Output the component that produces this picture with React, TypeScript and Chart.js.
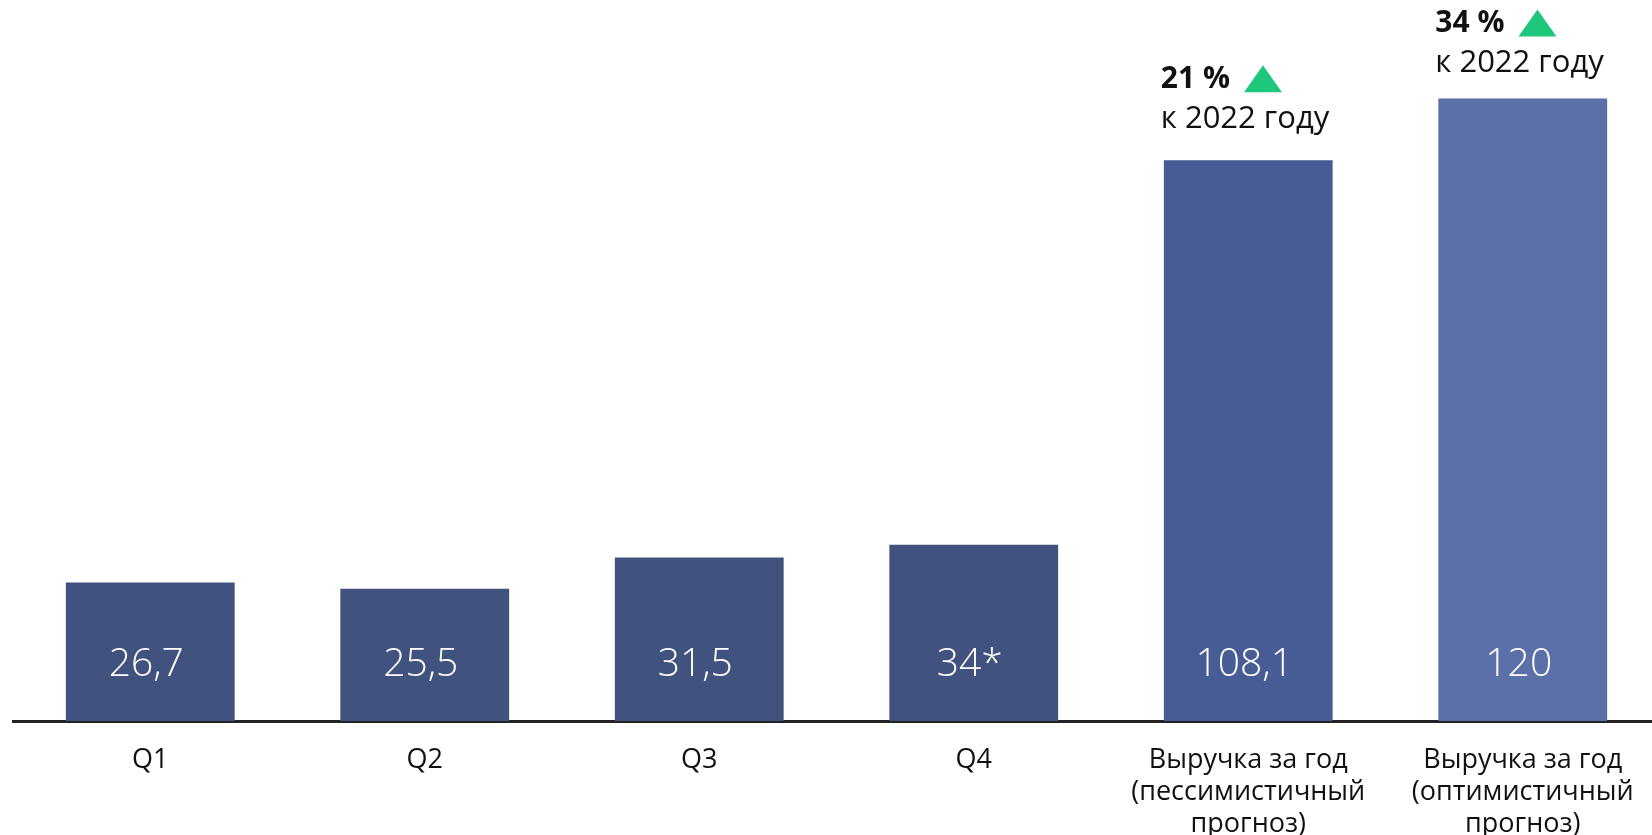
import React, { useEffect, useRef } from "react";
import { Chart, registerables } from "chart.js";

Chart.register(...registerables);

const categories: (string | string[])[] = [
  "Q1",
  "Q2",
  "Q3",
  "Q4",
  ["Выручка за год", "(пессимистичный", "прогноз)"],
  ["Выручка за год", "(оптимистичный", "прогноз)"],
];
const values = [26.7, 25.5, 31.5, 34, 108.1, 120];
const valueLabels = ["26,7", "25,5", "31,5", "34*", "108,1", "120"];
const growthPct: (string | null)[] = [null, null, null, null, "21 %", "34 %"];
const growthNote: (string | null)[] = [null, null, null, null, "к 2022 году", "к 2022 году"];
const barColors = ["#42527f", "#42527f", "#42527f", "#42527f", "#475b94", "#5b6fa9"];

const FONT = "'Open Sans', 'DejaVu Sans', sans-serif";
// vertical gap (px) between bar top and the annotation note line, per bar
const NOTE_GAP = [41, 41, 41, 41, 41, 35];

const labelsPlugin = {
  id: "barLabels",
  afterDatasetsDraw(chart: any) {
    const ctx = chart.ctx;
    const meta = chart.getDatasetMeta(0);
    const y0 = chart.scales.y.getPixelForValue(0);
    ctx.save();
    meta.data.forEach((bar: any, i: number) => {
      ctx.fillStyle = "#ffffff";
      ctx.font = `300 39px ${FONT}`;
      ctx.textAlign = "center";
      ctx.textBaseline = "middle";
      ctx.fillText(valueLabels[i], bar.x - 4, y0 - 56);

      const pct = growthPct[i];
      if (pct) {
        const left = bar.x - bar.width / 2 - 3;
        const noteY = bar.y - NOTE_GAP[i];
        const pctY = noteY - 40;
        ctx.textAlign = "left";
        ctx.fillStyle = "#111111";
        ctx.font = `700 30px ${FONT}`;
        ctx.fillText(pct, left, pctY);
        const w = ctx.measureText(pct).width;
        const tx = left + w + 14;
        ctx.fillStyle = "#1ec77c";
        ctx.beginPath();
        ctx.moveTo(tx, pctY + 13);
        ctx.lineTo(tx + 38, pctY + 13);
        ctx.lineTo(tx + 19, pctY - 14);
        ctx.closePath();
        ctx.fill();
        ctx.fillStyle = "#111111";
        ctx.font = `400 31px ${FONT}`;
        ctx.fillText(growthNote[i] as string, left, noteY);
      }
    });
    ctx.restore();
  },
};

export default function App() {
  const canvasRef = useRef<HTMLCanvasElement | null>(null);

  useEffect(() => {
    if (!canvasRef.current) return;
    const chart = new Chart(canvasRef.current, {
      type: "bar",
      data: {
        labels: categories,
        datasets: [
          {
            data: values,
            backgroundColor: barColors,
            borderWidth: 0,
            barPercentage: 0.615,
            categoryPercentage: 1,
          },
        ],
      },
      options: {
        animation: false,
        responsive: false,
        maintainAspectRatio: false,
        layout: { padding: { left: 13, right: 0, top: 0, bottom: 0 } },
        plugins: {
          legend: { display: false },
          tooltip: { enabled: false },
          title: { display: false },
        },
        scales: {
          x: {
            grid: { display: false, drawTicks: false },
            border: { display: true, color: "#222222", width: 3 },
            ticks: {
              color: "#111111",
              font: { family: FONT, size: 27, weight: "400", lineHeight: 1.17 },
              padding: 24,
              maxRotation: 0,
              autoSkip: false,
            },
            afterFit(scale: any) {
              scale.height = 114;
            },
          },
          y: {
            display: false,
            min: 0,
            max: 139,
          },
        },
      },
      plugins: [labelsPlugin],
    });
    return () => chart.destroy();
  }, []);

  return (
    <div style={{ position: "fixed", left: 0, top: 0, width: 1652, height: 835, overflow: "hidden", background: "#ffffff" }}>
      <canvas ref={canvasRef} width={1660} height={835} style={{ width: 1660, height: 835, display: "block" }} />
    </div>
  );
}
